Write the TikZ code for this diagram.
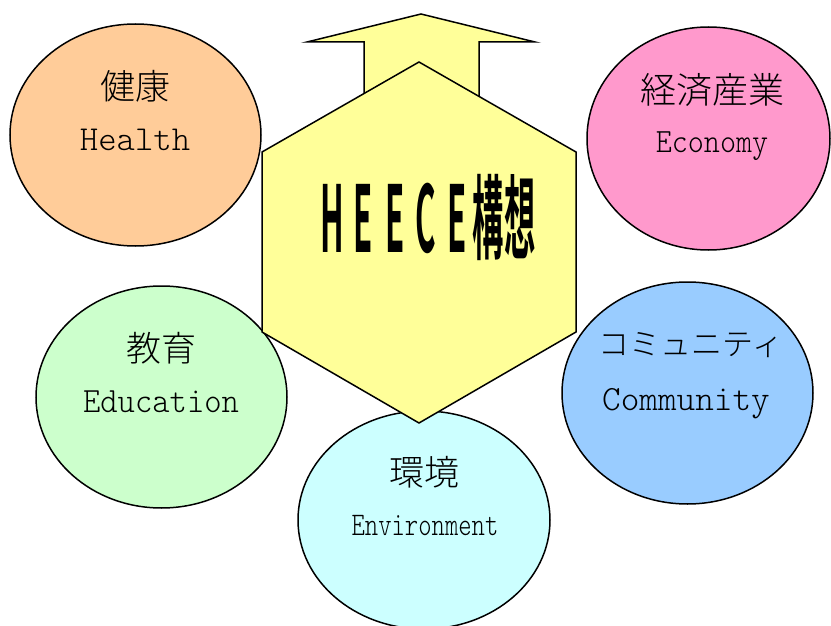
\documentclass[tikz,border=0pt]{standalone}
\usepackage{fontspec}
\usepackage{graphicx}
\usetikzlibrary{shapes.geometric}
\newfontfamily\jp{Noto Sans CJK JP}[UprightFont={* Light}]
\newfontfamily\jpb{Noto Sans CJK JP}[UprightFont={* Bold}]
\newfontfamily\lmlight{Latin Modern Mono Light}
\definecolor{hexc}{HTML}{FFFF99}
\definecolor{healthc}{HTML}{FFCC99}
\definecolor{econc}{HTML}{FF99CC}
\definecolor{educc}{HTML}{CCFFCC}
\definecolor{commc}{HTML}{99CCFF}
\definecolor{envc}{HTML}{CCFFFF}
\newcommand\fsz[1]{\fontsize{#1}{#1}\selectfont}
\begin{document}
\begin{tikzpicture}[x=1pt,y=-1pt,
  ell/.style={ellipse, draw=black, line width=1.5pt, inner sep=0pt},
  shapeline/.style={draw=black, line width=1.5pt, fill=hexc},
  jtext/.style={inner sep=0pt},
  etext/.style={inner sep=0pt, anchor=base}]
\path[use as bounding box] (0,0) rectangle (831,626);
\clip (0,0) rectangle (831,626);
% circles
\node[ell, fill=healthc, minimum width=251pt, minimum height=222pt] (health) at (135.5,135) {};
\node[ell, fill=econc, minimum width=243pt, minimum height=223pt] (econ) at (708.5,138.5) {};
\node[ell, fill=educc, minimum width=251pt, minimum height=222pt] (educ) at (161.5,397) {};
\node[ell, fill=commc, minimum width=251pt, minimum height=222pt] (comm) at (687.5,393) {};
\node[ell, fill=envc, minimum width=252pt, minimum height=218pt] (env) at (424,520) {};
% arrow
\draw[shapeline] (421,14) -- (535,42) -- (479,42) -- (479,200) -- (364,200) -- (364,42) -- (307,42) -- cycle;
% hexagon
\draw[shapeline] (419,62) -- (576,152) -- (576,332) -- (419,423) -- (262,332) -- (262,152) -- cycle;
% title
\node[anchor=base, inner sep=0pt, font=\jpb\fsz{92}] (title) at (426,252)
  {\scalebox{0.34}[1]{\makebox[1em]{H}\makebox[1em]{E}\makebox[1em]{E}\makebox[1em]{C}\makebox[1em]{E}構想}};
% labels
\node[jtext, font=\jp\fsz{35}] (healthj) at (135,86) {健康};
\node[etext, font=\lmlight\fsz{35}] (healthe) at (135,150) {Health};
\node[jtext, font=\jp\fsz{36}] (econj) at (712,90) {経済産業};
\node[etext, font=\lmlight\fsz{34}] (econe) at (712,153) {\scalebox{0.9}[1]{Economy}};
\node[jtext, font=\jp\fsz{35}] (educj) at (161,348) {教育};
\node[etext, font=\lmlight\fsz{35.5}] (educe) at (161,412) {\scalebox{0.93}[1]{Education}};
\node[jtext, font=\jp\fsz{31}] (commj) at (691,345) {コミュニティ};
\node[etext, font=\lmlight\fsz{35.5}] (comme) at (686,410) {Community};
\node[jtext, font=\jp\fsz{35}] (envj) at (424,472) {環境};
\node[etext, font=\lmlight\fsz{33}] (enve) at (425,535) {\scalebox{0.77}[1]{Environment}};
\end{tikzpicture}
\end{document}
